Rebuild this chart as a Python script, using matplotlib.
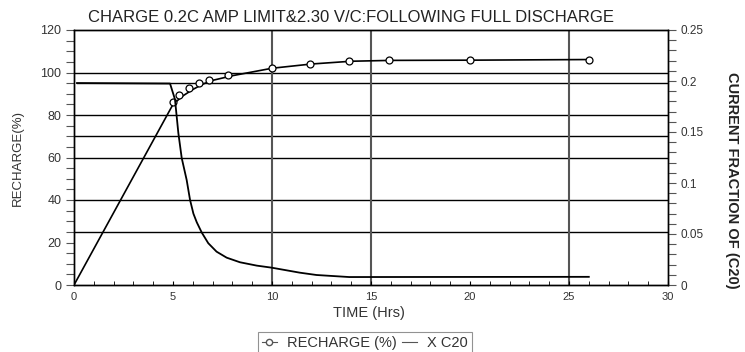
import matplotlib
matplotlib.use("Agg")
import matplotlib.pyplot as plt
from matplotlib.ticker import MultipleLocator
from matplotlib.lines import Line2D

plt.rcParams['font.family'] = ['Liberation Sans', 'DejaVu Sans']

# ---- data ----
recharge_line_x = [0.0, 5.0, 5.5, 6.0, 6.5, 7.0, 8.0, 10.0, 12.0, 14.0, 16.0, 20.0, 26.0]
recharge_line_y = [0.0, 85.0, 89.0, 92.0, 94.5, 96.3, 98.5, 102.0, 104.0, 105.3, 105.7, 105.8, 106.1]
recharge_marker_x = [5.0, 5.3, 5.8, 6.3, 6.8, 7.8, 10.0, 11.9, 13.9, 15.9, 20.0, 26.0]
recharge_marker_y = [86.2, 89.3, 92.8, 95.1, 96.7, 98.6, 102.0, 104.1, 105.3, 105.7, 105.7, 106.1]

current_x = [0.15, 4.85, 5.10, 5.27, 5.44, 5.69, 5.86, 6.03, 6.20, 6.45, 6.78, 7.20, 7.71, 8.38,
             9.23, 9.98, 11.4, 12.25, 13.9, 26.0]
current_y = [0.198, 0.1975, 0.182, 0.149, 0.1245, 0.103, 0.0835, 0.070, 0.0615, 0.0515, 0.041,
             0.0327, 0.0268, 0.0223, 0.019, 0.017, 0.0121, 0.0098, 0.0078, 0.0080]

hgrid_left = [100, 95.2, 80, 70, 60, 40, 25]
vgrid_x = [10, 15, 25]

x_ticks = [0, 5, 10, 15, 20, 25, 30]
left_ticks = [0, 20, 40, 60, 80, 100, 120]
right_ticks = [0, 0.05, 0.1, 0.15, 0.2, 0.25]
right_tick_labels = ['0', '0.05', '0.1', '0.15', '0.2', '0.25']

title = "CHARGE 0.2C AMP LIMIT&2.30 V/C:FOLLOWING FULL DISCHARGE"

W, H = 745, 352
fig = plt.figure(figsize=(W / 100, H / 100), dpi=100)
ax = fig.add_axes([74 / W, 1 - 285 / H, (668 - 74) / W, (285 - 30) / H])
ax2 = ax.twinx()

tick_color = '#333333'

# grid lines
for yv in hgrid_left:
    xmin = 0.005 if abs(yv - 95.2) < 0.5 else 0.0
    ax.axhline(yv, xmin=xmin, color='black', lw=1.0, zorder=1)
for xv in vgrid_x:
    ax.axvline(xv, color='#555555', lw=1.5, zorder=1)

# recharge curve
ax.plot(recharge_line_x, recharge_line_y, color='black', lw=1.2, zorder=3)
ax.plot(recharge_marker_x, recharge_marker_y, linestyle='none', marker='o', ms=5,
        mfc='white', mec='black', mew=0.9, zorder=4)

# current curve
ax2.plot(current_x, current_y, color='black', lw=1.3, zorder=3)

ax.set_xlim(0, 30)
ax.set_ylim(0, 120)
ax2.set_ylim(0, 0.25)

ax.set_xticks(x_ticks)
ax.xaxis.set_minor_locator(MultipleLocator(1))
ax.set_yticks(left_ticks)
ax.yaxis.set_minor_locator(MultipleLocator(5))
ax2.set_yticks(right_ticks)
ax2.set_yticklabels(right_tick_labels)
ax2.yaxis.set_minor_locator(MultipleLocator(0.01))

ax.tick_params(axis='x', which='major', direction='in', length=3, pad=5,
               labelsize=8, labelcolor=tick_color)
ax.tick_params(axis='x', which='minor', direction='in', length=3)
ax.tick_params(axis='y', which='both', direction='out', length=6, width=0.8,
               pad=3, labelsize=9, labelcolor=tick_color, color='#555555')
ax2.tick_params(axis='y', which='both', direction='out', length=6, width=0.8,
                pad=3, labelsize=8.5, labelcolor=tick_color, color='#555555')

for a in (ax, ax2):
    for s in a.spines.values():
        s.set_linewidth(1.0)
        s.set_color('black')

fig.text(351 / W, 1 - 17 / H, title, ha='center', va='center', fontsize=12, color='#222222')
fig.text(18 / W, 1 - 158 / H, 'RECHARGE(%)', rotation=90, ha='center', va='center',
         fontsize=9.5, color='#333333')
fig.text(732 / W, 1 - 180 / H, 'CURRENT FRACTION OF (C20)', rotation=-90, ha='center',
         va='center', fontsize=10.5, fontweight='bold', color='#222222')
fig.text(369 / W, 1 - 313 / H, 'TIME (Hrs)', ha='center', va='center', fontsize=10.5,
         color='#333333')

handles = [
    Line2D([], [], color='#555555', lw=0.8, marker='o', ms=4.5, mfc='white', mec='#555555'),
    Line2D([], [], color='#555555', lw=0.8),
]
leg = fig.legend(handles, ['RECHARGE (%)', 'X C20'], ncol=2, loc='upper center',
                 bbox_to_anchor=(365 / W, 1 - 332 / H), fontsize=10.5, frameon=True,
                 fancybox=False, handlelength=1.0, handletextpad=0.7, columnspacing=0.4,
                 borderpad=0.3, borderaxespad=0)
leg.get_frame().set_edgecolor('#777777')
leg.get_frame().set_linewidth(0.8)
for t in leg.get_texts():
    t.set_color('#333333')

fig.savefig('out.png', dpi=100)
